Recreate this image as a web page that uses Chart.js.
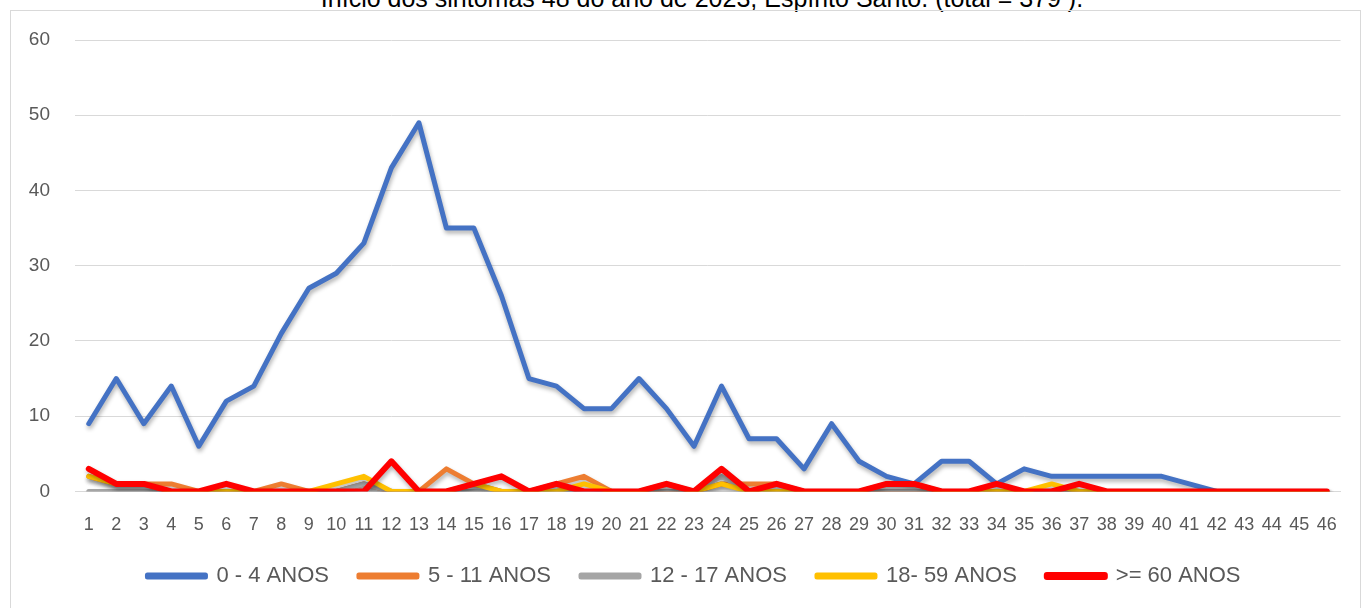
<!DOCTYPE html>
<html>
<head>
<meta charset="utf-8">
<script src="https://cdn.jsdelivr.net/npm/chart.js@4"></script>
<style>
  body { margin: 0; background: #fff; overflow: hidden; }
  #title {
    position: absolute; left: 0; width: 1404px; top: -13px;
    text-align: center; font: 25px "Liberation Sans", sans-serif;
    line-height: 22px; color: #000; white-space: nowrap;
  }
  #frame {
    position: absolute; left: 10px; top: 10px; width: 1351px; height: 610px;
    border: 1px solid #d9d9d9; box-sizing: border-box;
  }
  canvas { position: absolute; left: 0; top: 0; }
</style>
</head>
<body>
<div id="title">Início dos sintomas 48 do ano de 2023, Espírito Santo. (total = 379 ).</div>
<div id="frame"><canvas id="chart" width="1349" height="608"></canvas></div>
<script>
const weeks = [];
for (let i = 1; i <= 46; i++) weeks.push(String(i));

const yTicks = [0, 10, 20, 30, 40, 50, 60];

const age0to4 = [9, 15, 9, 14, 6, 12, 14, 21, 27, 29, 33, 43, 49, 35, 35, 26, 15, 14, 11, 11,
    15, 11, 6, 14, 7, 7, 3, 9, 4, 2, 1, 4, 4, 1, 3, 2, 2, 2, 2, 2, 1, 0, 0, 0, 0, 0];
const age5to11 = [2, 1, 1, 1, 0, 0, 0, 1, 0, 0, 1, 0, 0, 3, 1, 0, 0, 1, 2, 0,
    0, 0, 0, 1, 1, 1, 0, 0, 0, 0, 0, 0, 0, 0, 0, 0, 0, 0, 0, 0, 0, 0, 0, 0, 0, 0];
const age12to17 = [0, 0, 0, 0, 0, 0, 0, 0, 0, 0, 1, 0, 0, 0, 0, 0, 0, 0, 0, 0,
    0, 0, 0, 2, 0, 0, 0, 0, 0, 0, 0, 0, 0, 0, 0, 0, 0, 0, 0, 0, 0, 0, 0, 0, 0, 0];
const age18to59 = [2, 1, 1, 0, 0, 0, 0, 0, 0, 1, 2, 0, 0, 0, 1, 0, 0, 0, 1, 0,
    0, 1, 0, 1, 0, 0, 0, 0, 0, 1, 1, 0, 0, 0, 0, 1, 0, 0, 0, 0, 0, 0, 0, 0, 0, 0];
const age60plus = [3, 1, 1, 0, 0, 1, 0, 0, 0, 0, 0, 4, 0, 0, 1, 2, 0, 1, 0, 0,
    0, 1, 0, 3, 0, 1, 0, 0, 0, 1, 1, 0, 0, 1, 0, 0, 1, 0, 0, 0, 0, 0, 0, 0, 0, 0];

const seriesLabels = ["0 - 4 ANOS", "5 - 11 ANOS", "12 - 17 ANOS", "18- 59 ANOS", ">= 60 ANOS"];
const seriesColors = ["#4472C4", "#ED7D31", "#A5A5A5", "#FFC000", "#FF0000"];
const seriesData = [age0to4, age5to11, age12to17, age18to59, age60plus];

function line(i) {
    return {
        label: seriesLabels[i],
        data: seriesData[i],
        borderColor: seriesColors[i],
        backgroundColor: seriesColors[i],
        borderWidth: i == 4 ? 6 : 5,
        pointRadius: 0,
        tension: 0,
        borderCapStyle: "round",
        borderJoinStyle: "round",
        order: 4 - i   // later series drawn on top, as in the original
    };
}

// soft drop shadow under each line, like the office chart
const shadow = {
    id: "shadow",
    beforeDatasetDraw(chart) {
        const ctx = chart.ctx;
        ctx.save();
        ctx.shadowColor = "rgba(0,0,0,0.3)";
        ctx.shadowBlur = 4;
        ctx.shadowOffsetX = 1;
        ctx.shadowOffsetY = 3;
    },
    afterDatasetDraw(chart) {
        chart.ctx.restore();
    },
    // the legend sits a bit right of the canvas centre in the original
    afterLayout(chart) {
        chart.legend.left += 18;
        chart.legend.right += 18;
    }
};

new Chart(document.getElementById("chart"), {
    type: "line",
    data: {
        labels: weeks,
        datasets: [line(0), line(1), line(2), line(3), line(4)]
    },
    plugins: [shadow],
    options: {
        responsive: false,
        animation: false,
        layout: { padding: { top: 29, right: 19, bottom: 22, left: 0 } },
        plugins: {
            legend: {
                position: "bottom",
                labels: {
                    sort: (a, b) => a.datasetIndex - b.datasetIndex,
                    boxWidth: 58,
                    boxHeight: 2,
                    padding: 30,
                    color: "#595959",
                    font: { family: "'Liberation Sans Narrow', 'Liberation Sans', sans-serif", size: 22 }
                }
            },
            tooltip: { enabled: false }
        },
        scales: {
            x: {
                offset: true,
                afterFit(scale) { scale.height = scale.height - 24; },
                grid: { display: false, drawTicks: false },
                border: { display: true, color: "#d9d9d9" },
                ticks: {
                    color: "#595959",
                    padding: 23,
                    maxRotation: 0,
                    autoSkip: false,
                    font: { family: "'Liberation Sans', sans-serif", size: 18 }
                }
            },
            y: {
                min: 0,
                max: 60,
                afterFit(scale) {
                    scale.width = 64;
                    scale.paddingTop = 0;
                    scale.paddingBottom = 0;
                },
                afterBuildTicks(scale) { scale.ticks = yTicks.map(v => ({ value: v })); },
                grid: { color: "#d9d9d9", drawTicks: false },
                border: { display: false },
                ticks: {
                    color: "#595959",
                    padding: 25,
                    font: { family: "'Liberation Sans', sans-serif", size: 19 }
                }
            }
        }
    }
});
</script>
</body>
</html>
